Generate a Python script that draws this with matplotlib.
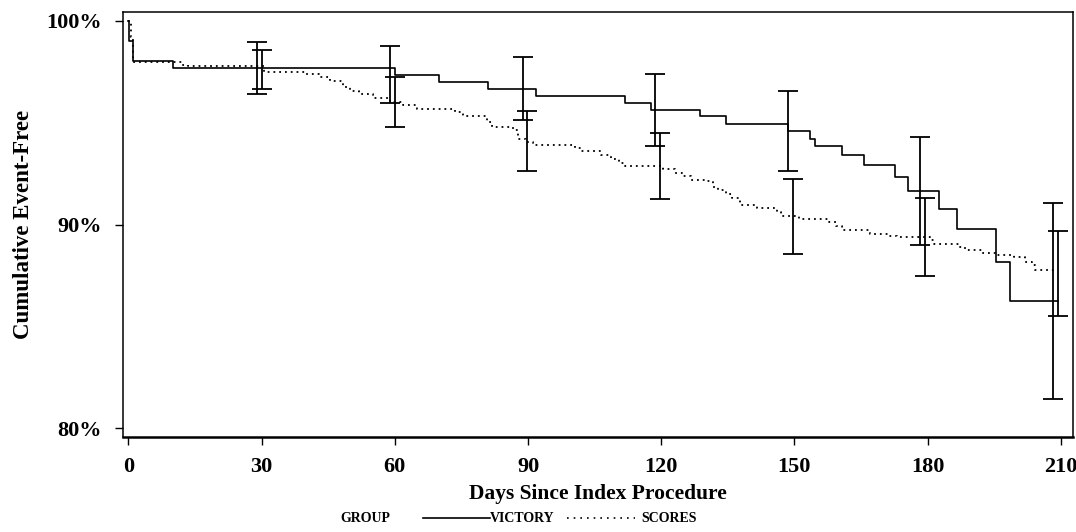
import matplotlib
matplotlib.use("Agg")
import matplotlib.pyplot as plt
from matplotlib.lines import Line2D
from matplotlib.ticker import FuncFormatter

# Kaplan-Meier style step curves (day, % event-free)
victory_days = [0, 0.2, 1.1, 10.1, 60.0, 69.9, 80.9, 91.8, 111.8, 117.8, 128.7,
                134.7, 148.5, 153.6, 154.6, 160.7, 165.6, 172.6, 175.5, 182.6,
                186.7, 195.5, 198.5, 209.4]
victory_vals = [100, 99.02, 98.02, 97.69, 97.37, 97.00, 96.66, 96.33, 95.99, 95.65,
                95.32, 94.96, 94.60, 94.22, 93.86, 93.44, 92.93, 92.34, 91.65,
                90.79, 89.79, 88.15, 86.27, 86.27]

scores_days = [0, 0.6, 1.1, 12.0, 13.5, 30.5, 40.0, 43.0, 45.4, 48.3, 49.9, 52.0,
               55.1, 58.9, 61.9, 64.9, 73.5, 75.4, 80.7, 82.0, 86.7, 87.8, 89.5,
               91.1, 100.6, 102.0, 106.5, 108.8, 110.5, 111.8, 120.5, 123.0, 125.0,
               126.8, 130.0, 131.7, 132.8, 134.7, 135.9, 137.7, 141.5, 146.0, 147.0,
               151.0, 157.8, 159.3, 160.8, 167.0, 171.0, 173.0, 180.5, 181.5, 187.0,
               188.5, 192.2, 195.3, 199.5, 202.0, 203.5, 204.2, 208.3, 208.6]
scores_vals = [100, 99.2, 97.99, 97.86, 97.79, 97.50, 97.40, 97.25, 97.04, 96.76,
               96.56, 96.40, 96.22, 96.02, 95.89, 95.70, 95.53, 95.32, 95.04, 94.79,
               94.63, 94.22, 94.06, 93.93, 93.76, 93.60, 93.40, 93.24, 93.04, 92.88,
               92.75, 92.55, 92.37, 92.18, 92.14, 91.85, 91.72, 91.49, 91.33, 90.98,
               90.82, 90.62, 90.41, 90.30, 90.13, 89.92, 89.75, 89.56, 89.45, 89.39,
               89.23, 89.07, 88.90, 88.74, 88.60, 88.49, 88.41, 88.17, 88.00, 87.79,
               87.67, 87.67]

# confidence intervals
victory_ci_days = [28.9, 58.9, 88.8, 118.6, 148.5, 178.4, 208.3]
victory_lo = [96.40, 95.97, 95.12, 93.86, 92.63, 88.98, 81.45]
victory_hi = [98.97, 98.76, 98.23, 97.42, 96.56, 94.30, 91.08]
scores_ci_days = [30.0, 60.0, 89.8, 119.7, 149.6, 179.5, 209.4]
scores_lo = [96.64, 94.81, 92.63, 91.27, 88.57, 87.46, 85.54]
scores_hi = [98.56, 97.25, 95.56, 94.50, 92.26, 91.31, 89.68]

x_ticks = [0, 30, 60, 90, 120, 150, 180, 210]
y_ticks = [80, 90, 100]

plt.rcParams["font.family"] = ["Liberation Serif", "DejaVu Serif"]
plt.rcParams["font.weight"] = "bold"

fig = plt.figure(figsize=(10.76, 5.32), dpi=100)
ax = fig.add_axes([0.114, 0.179, 0.883, 0.798])

ax.step(victory_days, victory_vals, where="post", color="black", lw=1.2)
ax.step(scores_days, scores_vals, where="post", color="black", lw=1.3,
        linestyle=(0, (1, 2.2)))


def draw_ci(days, lo, hi):
    mid = [(a + b) / 2 for a, b in zip(lo, hi)]
    err = [[m - a for m, a in zip(mid, lo)], [b - m for m, b in zip(mid, hi)]]
    ax.errorbar(days, mid, yerr=err, fmt="none", ecolor="black",
                elinewidth=1.3, capsize=7, capthick=1.3)


draw_ci(victory_ci_days, victory_lo, victory_hi)
draw_ci(scores_ci_days, scores_lo, scores_hi)

ax.set_xlim(-1.3, 212.7)
ax.set_ylim(79.59, 100.43)
ax.set_xticks(x_ticks)
ax.set_yticks(y_ticks)
ax.yaxis.set_major_formatter(FuncFormatter(lambda v, p: f"{v:.0f}%"))
ax.tick_params(axis="both", direction="out", length=5.5, width=1, labelsize=16)
ax.tick_params(axis="x", pad=9)
ax.tick_params(axis="y", pad=9.5)
for s in ax.spines.values():
    s.set_linewidth(1.1)
ax.spines["bottom"].set_linewidth(1.8)

ax.set_xlabel("Days Since Index Procedure", fontsize=15.5, fontweight="bold",
              labelpad=5)
ax.set_ylabel("Cumulative Event-Free", fontsize=16.5, fontweight="bold",
              labelpad=9)

# legend row at the bottom
W, H = 1076, 532
ly = 1 - 518 / H
fig.text(340 / W, ly, "GROUP", fontsize=10, fontweight="bold", va="center")
fig.add_artist(Line2D([423 / W, 490 / W], [ly, ly], color="black", lw=1.2,
                      transform=fig.transFigure))
fig.text(490 / W, ly, "VICTORY", fontsize=10, fontweight="bold", va="center")
fig.add_artist(Line2D([567 / W, 635 / W], [ly, ly], color="black", lw=1.2,
                      linestyle=(0, (1, 3)), transform=fig.transFigure))
fig.text(641 / W, ly, "SCORES", fontsize=10, fontweight="bold", va="center")

fig.savefig("out.png", dpi=100)
